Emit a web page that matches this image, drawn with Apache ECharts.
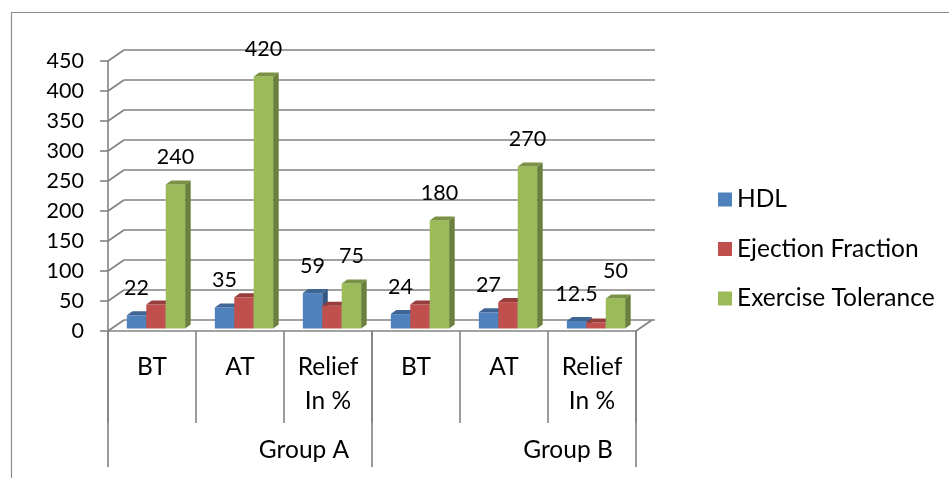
<!DOCTYPE html>
<html>
<head>
<meta charset="utf-8">
<style>
  html, body { margin: 0; padding: 0; background: #ffffff; }
  #chart { width: 949px; height: 478px; }
</style>
<script src="https://cdn.jsdelivr.net/npm/echarts@6/dist/echarts.min.js"></script>
</head>
<body>
<div id="chart"></div>
<script>
// Categories along the floor and the two groups beneath them
const categories = ['BT', 'AT', 'Relief\nIn %', 'BT', 'AT', 'Relief\nIn %'];
const groups = ['Group A', 'Group B'];

// Series values
const hdl = [22, 35, 59, 24, 27, 12.5];
const ejectionFraction = [40, 52, 38, 40, 44, 10];
const exerciseTolerance = [240, 420, 75, 180, 270, 50];

// Value axis ticks
const yTicks = [0, 50, 100, 150, 200, 250, 300, 350, 400, 450];

const FONT = 'Lato, "Open Sans", sans-serif';
const TEXT_SIZE = 24.5; // words
const NUM_SIZE = 21.5;  // figures
const GRID_COLOR = '#828282';
const GRID_WIDTH = 1.6;

// 3D look: depth of the walls and of the bars, in pixels
const WALL_DX = 16, WALL_DY = -11;
const BAR_DX = 5.5, BAR_DY = -4;
const BAR_SHIFT_X = 4, BAR_SHIFT_Y = -2.5;

function shade(hex, f) {
  const n = parseInt(hex.slice(1), 16);
  const r = Math.round(((n >> 16) & 255) * f);
  const g = Math.round(((n >> 8) & 255) * f);
  const b = Math.round((n & 255) * f);
  return 'rgb(' + r + ',' + g + ',' + b + ')';
}

// Builds one 3D bar series; k is the slot of the series inside each cluster
function barSeries(name, values, color, k, showLabel) {
  return {
    name: name,
    type: 'custom',
    xAxisIndex: 0,
    yAxisIndex: 0,
    itemStyle: { color: color },
    data: values.map((v, i) => [i, v]),
    z: 3 + k,
    renderItem: function (params, api) {
      const idx = api.value(0);
      const val = api.value(1);
      const base = api.coord([idx, 0]);
      const top = api.coord([idx, val]);
      const band = api.size([1, 0])[0];
      const bw = band * 0.221;
      const cx = base[0] + BAR_SHIFT_X;
      const x = cx - 1.5 * bw + k * bw;
      const yb = base[1] + BAR_SHIFT_Y;
      const yt = top[1] + BAR_SHIFT_Y;
      const children = [
        {
          type: 'rect',
          shape: { x: x, y: yt, width: bw, height: yb - yt },
          style: { fill: color }
        },
        {
          type: 'polygon',
          shape: { points: [[x, yt], [x + BAR_DX, yt + BAR_DY], [x + bw + BAR_DX, yt + BAR_DY], [x + bw, yt]] },
          style: { fill: shade(color, 0.78) }
        },
        {
          type: 'polygon',
          shape: { points: [[x + bw, yt], [x + bw + BAR_DX, yt + BAR_DY], [x + bw + BAR_DX, yb + BAR_DY], [x + bw, yb]] },
          style: { fill: shade(color, 0.68) }
        }
      ];
      if (showLabel) {
        children.push({
          type: 'text',
          z2: 10,
          style: {
            text: String(val),
            x: x + bw / 2,
            y: yt - 27,
            align: 'center',
            verticalAlign: 'middle',
            fill: '#000',
            font: NUM_SIZE + 'px ' + FONT
          }
        });
      }
      return { type: 'group', children: children };
    }
  };
}

const chart = echarts.init(document.getElementById('chart'));

chart.setOption({
  animation: false,
  backgroundColor: '#ffffff',
  textStyle: { fontFamily: FONT },
  graphic: [
    {
      type: 'rect',
      shape: { x: 11.5, y: 12.5, width: 1000, height: 1000 },
      style: { fill: 'none', stroke: '#8c8c8c', lineWidth: 1.2 },
      silent: true
    }
  ],
  legend: {
    orient: 'vertical',
    left: 713,
    top: 182,
    itemWidth: 14,
    itemHeight: 14,
    itemGap: 24.5,
    icon: 'rect',
    selectedMode: false,
    textStyle: { fontSize: TEXT_SIZE, lineHeight: 20, color: '#000', fontFamily: FONT },
    data: ['HDL', 'Ejection Fraction', 'Exercise Tolerance']
  },
  grid: [
    { left: 108, right: 313, top: 61, bottom: 147 },
    { left: 124, right: 294, top: 50, bottom: 158 }
  ],
  xAxis: [
    {
      type: 'category',
      gridIndex: 0,
      data: categories,
      position: 'bottom',
      axisLine: { show: true, lineStyle: { color: GRID_COLOR, width: GRID_WIDTH } },
      axisTick: { show: true, interval: 0, length: 92, lineStyle: { color: GRID_COLOR, width: GRID_WIDTH } },
      axisLabel: {
        interval: 0,
        margin: 19,
        fontSize: TEXT_SIZE,
        lineHeight: 34,
        color: '#000',
        fontFamily: FONT,
        verticalAlign: 'top'
      },
      splitLine: { show: false }
    },
    {
      type: 'category',
      gridIndex: 0,
      data: groups,
      position: 'bottom',
      axisLine: { show: false },
      axisTick: { show: true, interval: 0, length: 136, lineStyle: { color: GRID_COLOR, width: GRID_WIDTH } },
      axisLabel: {
        interval: 0,
        margin: 107,
        fontSize: TEXT_SIZE,
        lineHeight: 24,
        color: '#000',
        fontFamily: FONT,
        padding: [0, 0, 0, 128]
      },
      splitLine: { show: false }
    },
    {
      type: 'category',
      gridIndex: 1,
      data: categories,
      show: false
    }
  ],
  yAxis: [
    {
      type: 'value',
      gridIndex: 0,
      min: 0,
      max: 450,
      interval: 50,
      axisLine: { show: true, lineStyle: { color: GRID_COLOR, width: GRID_WIDTH } },
      axisTick: { show: true, length: 8, lineStyle: { color: GRID_COLOR, width: GRID_WIDTH } },
      axisLabel: { margin: 24, fontSize: NUM_SIZE, color: '#000', fontFamily: FONT },
      splitLine: { show: false }
    },
    {
      type: 'value',
      gridIndex: 1,
      min: 0,
      max: 450,
      interval: 50,
      axisLine: { show: false },
      axisTick: { show: false },
      axisLabel: { show: false },
      splitLine: { show: true, lineStyle: { color: GRID_COLOR, width: GRID_WIDTH } }
    }
  ],
  series: [
    // Side wall diagonals and the right edge of the floor
    {
      type: 'custom',
      xAxisIndex: 0,
      yAxisIndex: 0,
      silent: true,
      z: 1,
      data: yTicks.map(v => [0, v]),
      renderItem: function (params, api) {
        const cs = params.coordSys;
        const y = api.coord([0, api.value(1)])[1];
        const children = [{
          type: 'line',
          shape: { x1: cs.x, y1: y, x2: cs.x + WALL_DX, y2: y + WALL_DY },
          style: { stroke: GRID_COLOR, lineWidth: GRID_WIDTH }
        }];
        if (api.value(1) === 0) {
          children.push({
            type: 'line',
            shape: { x1: cs.x + cs.width, y1: y, x2: cs.x + cs.width + WALL_DX, y2: y + WALL_DY },
            style: { stroke: GRID_COLOR, lineWidth: GRID_WIDTH }
          });
        }
        return { type: 'group', children: children };
      }
    },
    barSeries('HDL', hdl, '#4F81BD', 0, true),
    barSeries('Ejection Fraction', ejectionFraction, '#C0504D', 1, false),
    barSeries('Exercise Tolerance', exerciseTolerance, '#9BBB59', 2, true)
  ]
});
</script>
</body>
</html>
